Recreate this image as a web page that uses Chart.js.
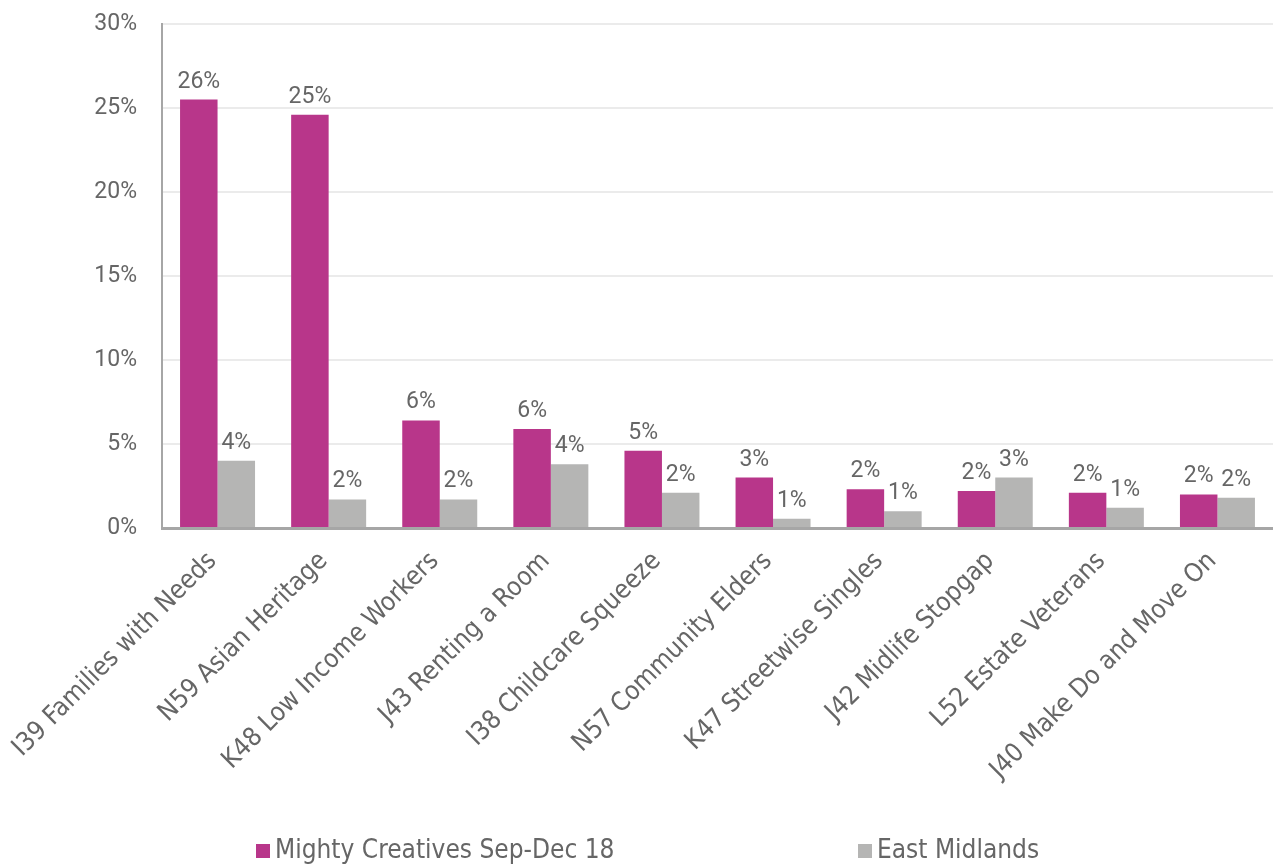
<!DOCTYPE html>
<html>
<head>
<meta charset="utf-8">
<script src="https://cdn.jsdelivr.net/npm/chart.js@4/dist/chart.umd.min.js"></script>
<style>
  html, body { margin: 0; padding: 0; background: #ffffff; }
  #wrap { width: 1273px; height: 865px; position: relative; }
</style>
</head>
<body>
<div id="wrap"><canvas id="c" width="1273" height="865"></canvas></div>
<script>
const categories = [
  "I39 Families with Needs",
  "N59 Asian Heritage",
  "K48 Low Income Workers",
  "J43 Renting a Room",
  "I38 Childcare Squeeze",
  "N57 Community Elders",
  "K47 Streetwise Singles",
  "J42 Midlife Stopgap",
  "L52 Estate Veterans",
  "J40 Make Do and Move On"
];
const seriesNames = ["Mighty Creatives Sep-Dec 18", "East Midlands"];
const mightyCreatives = [25.5, 24.6, 6.4, 5.9, 4.6, 3.0, 2.3, 2.2, 2.1, 2.0];
const eastMidlands = [4.0, 1.7, 1.7, 3.8, 2.1, 0.55, 1.0, 3.0, 1.2, 1.8];
const yTicks = [0, 5, 10, 15, 20, 25, 30];

const FONT = "'DejaVu Sans Condensed', 'DejaVu Sans', sans-serif";
const NUMFONT = "Roboto, 'DejaVu Sans Condensed', sans-serif";
const TEXT = "#666666";
const MAGENTA = "#b8368a";
const GREY = "#b5b5b4";

const dataLabels = {
  id: "dataLabels",
  afterDatasetsDraw(chart) {
    const ctx = chart.ctx;
    ctx.save();
    ctx.font = "23px " + NUMFONT;
    ctx.fillStyle = TEXT;
    ctx.textAlign = "center";
    ctx.textBaseline = "alphabetic";
    chart.data.datasets.forEach((ds, di) => {
      const meta = chart.getDatasetMeta(di);
      meta.data.forEach((el, i) => {
        ctx.fillText(Math.round(ds.data[i]) + "%", el.x, el.y - 12);
      });
    });
    ctx.restore();
  }
};

const customLegend = {
  id: "customLegend",
  afterDraw(chart) {
    const ctx = chart.ctx;
    ctx.save();
    ctx.font = "26px " + FONT;
    ctx.textBaseline = "middle";
    ctx.textAlign = "left";
    const startX = 256, step = 602, cy = 851, box = 14;
    chart.data.datasets.forEach((ds, i) => {
      const x = startX + i * step;
      ctx.fillStyle = ds.backgroundColor;
      ctx.fillRect(x, cy - box / 2, box, box);
      ctx.fillStyle = TEXT;
      ctx.fillText(ds.label, x + box + 5, cy);
    });
    ctx.restore();
  }
};

new Chart(document.getElementById("c"), {
  type: "bar",
  data: {
    labels: categories,
    datasets: [
      { label: seriesNames[0], data: mightyCreatives, backgroundColor: MAGENTA, borderWidth: 0 },
      { label: seriesNames[1], data: eastMidlands, backgroundColor: GREY, borderWidth: 0 }
    ]
  },
  options: {
    responsive: false,
    animation: false,
    devicePixelRatio: 1,
    layout: { padding: { top: 24, right: 0, bottom: 0, left: 0 } },
    datasets: { bar: { barPercentage: 1.0, categoryPercentage: 0.675 } },
    plugins: {
      legend: { display: false },
      tooltip: { enabled: false }
    },
    scales: {
      x: {
        grid: { display: false, drawTicks: false },
        border: { display: true, color: "#a6a6a6", width: 3 },
        ticks: {
          autoSkip: false,
          minRotation: 45,
          maxRotation: 45,
          padding: 18,
          labelOffset: -5,
          color: TEXT,
          font: { family: FONT, size: 26 }
        },
        afterFit(scale) {
          scale.height = 337;
          scale.paddingLeft = 0; scale.paddingRight = 0;
          scale.paddingTop = 0; scale.paddingBottom = 0;
        }
      },
      y: {
        min: 0,
        max: 30,
        afterBuildTicks(scale) { scale.ticks = yTicks.map(v => ({ value: v })); },
        grid: { color: "#ebebeb", lineWidth: 2, drawTicks: false },
        border: { display: true, color: "#a6a6a6", width: 2 },
        ticks: {
          padding: 25,
          color: TEXT,
          font: { family: NUMFONT, size: 23 },
          callback: v => v + "%"
        },
        afterFit(scale) {
          scale.width = 162;
          scale.paddingTop = 0; scale.paddingBottom = 0;
          scale.paddingLeft = 0; scale.paddingRight = 0;
        }
      }
    }
  },
  plugins: [dataLabels, customLegend]
});
</script>
</body>
</html>
